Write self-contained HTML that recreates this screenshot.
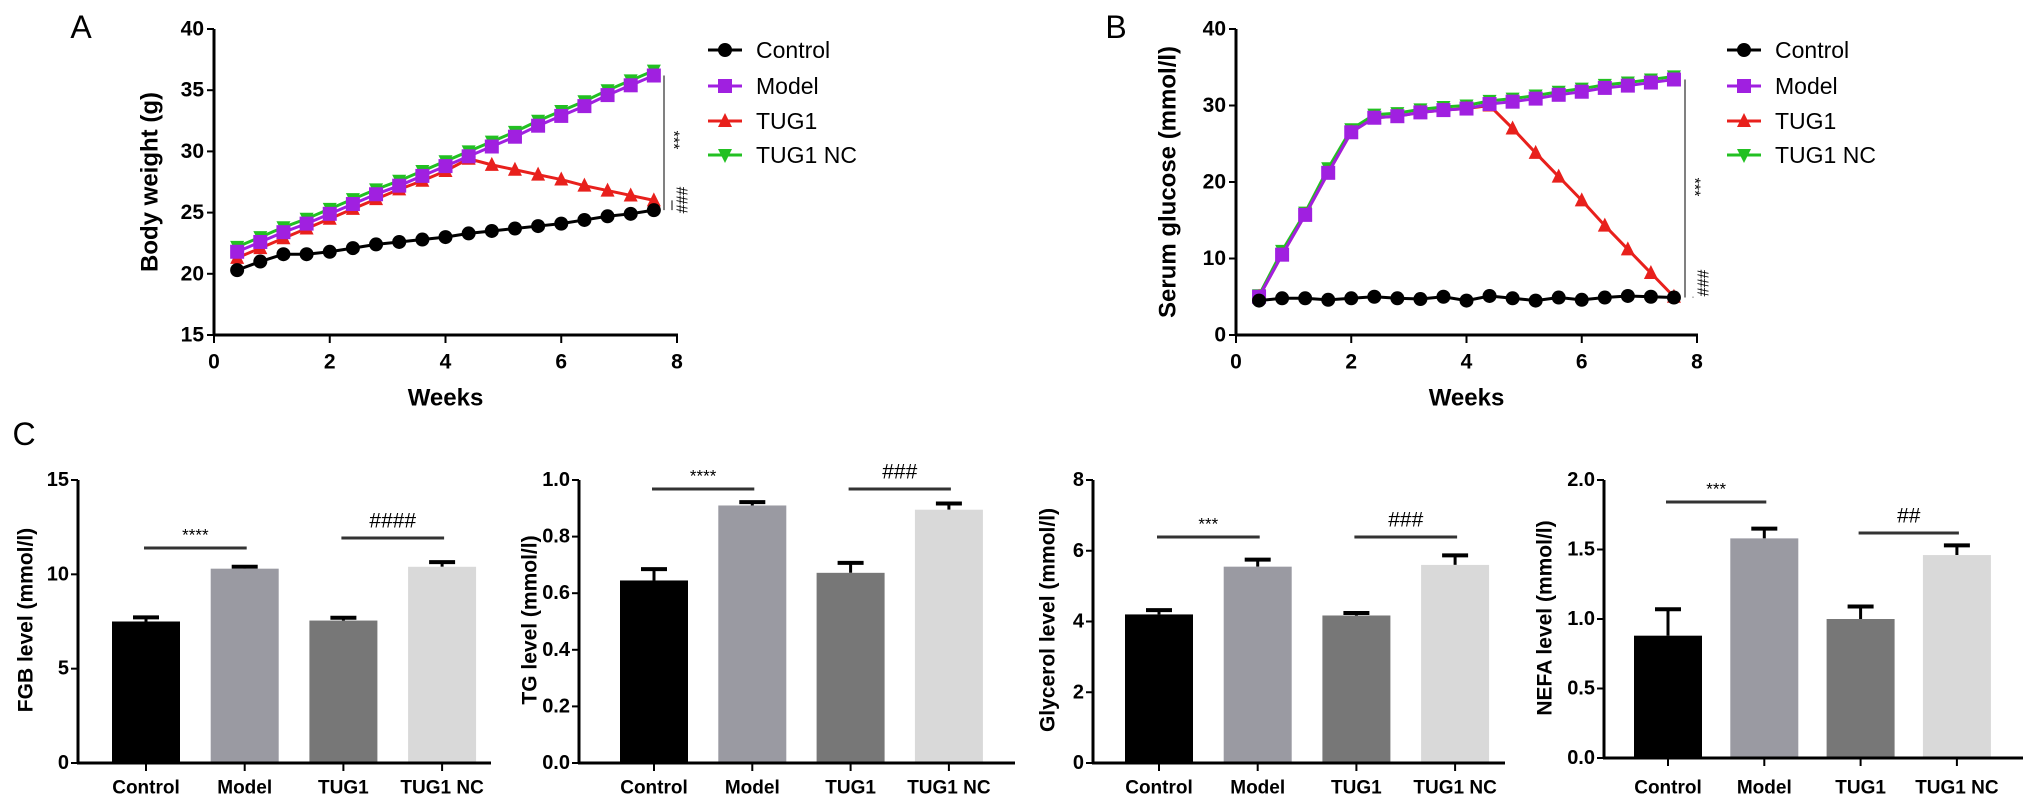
<!DOCTYPE html>
<html><head><meta charset="utf-8"><style>
html,body{margin:0;padding:0;background:#fff;}
svg{display:block;font-family:"Liberation Sans",Arial,sans-serif;}
</style></head><body>
<svg id="fig" width="2031" height="809" viewBox="0 0 2031 809" xmlns="http://www.w3.org/2000/svg"></svg>
<script>
const weeks=[0.4,0.8,1.2,1.6,2.0,2.4,2.8,3.2,3.6,4.0,4.4,4.8,5.2,5.6,6.0,6.4,6.8,7.2,7.6];
const groups=["Control","Model","TUG1","TUG1 NC"];
const bwControl=[20.3,21.0,21.6,21.6,21.8,22.1,22.4,22.6,22.8,23.0,23.3,23.5,23.7,23.9,24.1,24.4,24.7,24.9,25.2];
const bwModel=[21.8,22.6,23.4,24.1,24.9,25.7,26.5,27.2,28.0,28.8,29.6,30.4,31.2,32.1,32.9,33.7,34.6,35.4,36.2];
const bwTUG1=[21.3,22.1,22.9,23.7,24.5,25.3,26.1,26.9,27.6,28.4,29.4,28.9,28.5,28.1,27.7,27.2,26.8,26.4,26.0];
const bwNC=[22.2,23.0,23.8,24.5,25.3,26.1,26.9,27.6,28.4,29.2,30.0,30.8,31.6,32.5,33.3,34.1,35.0,35.8,36.6];
const sgControl=[4.5,4.8,4.8,4.6,4.8,5.0,4.8,4.7,5.0,4.5,5.1,4.8,4.5,4.9,4.6,4.9,5.1,5.0,4.9];
const sgModel=[5.0,10.5,15.7,21.2,26.5,28.4,28.6,29.1,29.4,29.6,30.2,30.5,30.9,31.4,31.8,32.3,32.6,33.0,33.4];
const sgTUG1=[5.0,10.5,15.7,21.2,26.5,28.4,28.6,29.1,29.4,29.6,30.0,27.0,23.8,20.7,17.6,14.3,11.2,8.1,5.0];
const sgNC=[5.2,11.0,16.0,21.8,26.9,28.8,29.0,29.5,29.8,30.0,30.6,30.9,31.3,31.8,32.2,32.7,33.0,33.4,33.8];
const xTicks=[0,2,4,6,8];
const bwTicks=[15,20,25,30,35,40];
const sgTicks=[0,10,20,30,40];
const fgbVals=[7.5,10.3,7.55,10.4], fgbErr=[0.22,0.1,0.15,0.25], fgbTicks=[0,5,10,15];
const tgVals=[0.645,0.91,0.672,0.895], tgErr=[0.04,0.012,0.035,0.022], tgTicks=[0,0.2,0.4,0.6,0.8,1.0];
const glyVals=[4.2,5.55,4.17,5.6], glyErr=[0.12,0.2,0.07,0.27], glyTicks=[0,2,4,6,8];
const nefaVals=[0.88,1.58,1.0,1.46], nefaErr=[0.19,0.07,0.09,0.07], nefaTicks=[0,0.5,1.0,1.5,2.0];

const NS="http://www.w3.org/2000/svg";
const svg=document.getElementById('fig');
function mk(tag,attrs,parent,text){const e=document.createElementNS(NS,tag);for(const k in attrs)e.setAttribute(k,attrs[k]);if(text!==undefined)e.textContent=text;(parent||svg).appendChild(e);return e;}
function lbl(x,y,t,size,weight,anchor,rot){const e=mk('text',{x:x,y:y,'font-size':size,'font-weight':weight||'normal','text-anchor':anchor||'middle','dominant-baseline':'central'},svg,t);if(rot)e.setAttribute('transform','rotate('+rot+' '+x+' '+y+')');return e;}

function marker(g,type,x,y,color){
  let e;
  if(type==='circle')e=mk('circle',{cx:x,cy:y,r:7,fill:color},g);
  else if(type==='square')e=mk('rect',{x:x-7,y:y-7,width:14,height:14,fill:color},g);
  else if(type==='up')e=mk('polygon',{points:(x)+','+(y-8)+' '+(x-7)+','+(y+6)+' '+(x+7)+','+(y+6),fill:color},g);
  else e=mk('polygon',{points:(x)+','+(y+8)+' '+(x-7)+','+(y-6)+' '+(x+7)+','+(y-6),fill:color},g);
  return e;
}

function lineChart(cfg){
  const g=mk('g',{});
  
  
  const sx=v=>cfg.x0+(v-0)/(8-0)*(cfg.x1-cfg.x0);
  const sy=v=>cfg.yb-(v-cfg.ymin)/(cfg.ymax-cfg.ymin)*(cfg.yb-cfg.yt);
  mk('line',{x1:cfg.x0,y1:cfg.yt,x2:cfg.x0,y2:cfg.yb+1,stroke:'#000','stroke-width':3},g);
  mk('line',{x1:cfg.x0-1,y1:cfg.yb,x2:cfg.x1+1,y2:cfg.yb,stroke:'#000','stroke-width':3},g);
  cfg.yticks.forEach(t=>{const y=sy(t);mk('line',{x1:cfg.x0-7,y1:y,x2:cfg.x0,y2:y,stroke:'#000','stroke-width':2},g);
    const tl=lbl(cfg.x0-10,y,String(t),21,'bold','end');});
  xTicks.forEach(t=>{const x=sx(t);mk('line',{x1:x,y1:cfg.yb,x2:x,y2:cfg.yb+8,stroke:'#000','stroke-width':2},g);
    const tl=lbl(x,cfg.yb+27,String(t),21,'bold');});
  const xt=lbl((cfg.x0+cfg.x1)/2,398,'Weeks',24,'bold');
  const yt=lbl(cfg.titleX,(cfg.yt+cfg.yb)/2,cfg.ytitle,24,'bold','middle',-90);
  const ser=[{d:cfg.nc,c:'#22c022',m:'down',n:'TUG1 NC'},{d:cfg.tug,c:'#e8201c',m:'up',n:'TUG1'},{d:cfg.model,c:'#a020e0',m:'square',n:'Model'},{d:cfg.control,c:'#000',m:'circle',n:'Control'}];
  ser.forEach(s=>{
    const sg=mk('g',{},g);
    
    
    mk('polyline',{points:s.d.map((v,i)=>sx(weeks[i])+','+sy(v)).join(' '),fill:'none',stroke:s.c,'stroke-width':3},sg);
    s.d.forEach((v,i)=>marker(sg,s.m,sx(weeks[i]),sy(v),s.c));
  });
  // legend
  const leg=[{n:'Control',c:'#000',m:'circle'},{n:'Model',c:'#a020e0',m:'square'},{n:'TUG1',c:'#e8201c',m:'up'},{n:'TUG1 NC',c:'#22c022',m:'down'}];
  const ly=[50,86,121,155];
  leg.forEach((l,i)=>{
    const lg=mk('g',{},g);
    
    
    mk('line',{x1:cfg.legX-17,y1:ly[i],x2:cfg.legX+17,y2:ly[i],stroke:l.c,'stroke-width':3},lg);
    marker(lg,l.m,cfg.legX,ly[i],l.c);
    const t=mk('text',{x:cfg.legX+31,y:ly[i],'font-size':23,'dominant-baseline':'central'},lg,l.n);
  });
  // significance
  const sigX=cfg.sigX;
  mk('line',{x1:sigX,y1:sy(cfg.model[18]),x2:sigX,y2:sy(cfg.control[18])-cfg.sigGap,stroke:'#000','stroke-width':1},g);
  mk('line',{x1:sigX+8,y1:sy(cfg.tug[18]),x2:sigX+8,y2:sy(cfg.control[18]),stroke:'#000','stroke-width':1},g);
  const s1=lbl(sigX+9,cfg.starY,'***',16,'normal','middle',90);
  const s2=lbl(sigX+17,cfg.hashY,'###',16,'normal','middle',90);
}

lineChart({name:'panel-a-body-weight',x0:214,x1:677,yt:29,yb:335,ymin:15,ymax:40,yticks:bwTicks,ytitle:'Body weight (g)',titleX:150,
  control:bwControl,model:bwModel,tug:bwTUG1,nc:bwNC,legX:725,sigX:664,sigGap:0,starY:140,hashY:200});
lineChart({name:'panel-b-serum-glucose',x0:1236,x1:1697,yt:29,yb:335,ymin:0,ymax:40,yticks:sgTicks,ytitle:'Serum glucose (mmol/l)',titleX:1168,
  control:sgControl,model:sgModel,tug:sgTUG1,nc:sgNC,legX:1744,sigX:1685,sigGap:0,starY:187,hashY:283});

function barChart(cfg){
  const g=mk('g',{});
  
  
  const ymax=cfg.ticks[cfg.ticks.length-1];
  const sy=v=>cfg.yb-v/ymax*(cfg.yb-cfg.yt);
  const sx=i=>cfg.cx0+i*cfg.step;
  const cols=['#000000','#9a9aa2','#777777','#d9d9d9'];
  const w=68;
  cfg.vals.forEach((v,i)=>{
    const x=sx(i);
    const y=sy(v),ye=sy(v+cfg.err[i]);
    mk('line',{x1:x,y1:y,x2:x,y2:ye,stroke:'#000','stroke-width':3},g);
    mk('line',{x1:x-13,y1:ye,x2:x+13,y2:ye,stroke:'#000','stroke-width':4},g);
    const b=mk('rect',{x:x-w/2,y:y,width:w,height:cfg.yb-y,fill:cols[i]},g);
    
    
    mk('line',{x1:x,y1:cfg.yb,x2:x,y2:cfg.yb+8,stroke:'#000','stroke-width':2},g);
    const cl=lbl(x,788,groups[i],19,'bold');
  });
  mk('line',{x1:cfg.x0,y1:cfg.yt,x2:cfg.x0,y2:cfg.yb+1,stroke:'#000','stroke-width':3},g);
  mk('line',{x1:cfg.x0-1,y1:cfg.yb,x2:cfg.x1,y2:cfg.yb,stroke:'#000','stroke-width':3},g);
  cfg.ticks.forEach(t=>{const y=sy(t);mk('line',{x1:cfg.x0-7,y1:y,x2:cfg.x0,y2:y,stroke:'#000','stroke-width':2},g);
    const tl=lbl(cfg.x0-9,y,cfg.fmt(t),20,'bold','end');});
  const yt=lbl(cfg.titleX,cfg.titleY,cfg.ytitle,21,'bold','middle',-90);
  [[0,1,cfg.sig1Y,cfg.sig1],[2,3,cfg.sig2Y,cfg.sig2]].forEach(s=>{
    const a=sx(s[0])-2,b=sx(s[1])+2;
    const l=mk('line',{x1:a,y1:s[2],x2:b,y2:s[2],stroke:'#333','stroke-width':3},g);
    
    const t=lbl((a+b)/2,s[2]-(s[3][0]==='*'?13:17),s[3],s[3][0]==='*'?17:21,'normal');
    
  });
}
const f0=t=>String(t), f1=t=>t.toFixed(1);
barChart({name:'panel-c-fgb',x0:78,x1:491,yt:480,yb:763,cx0:146,step:98.7,vals:fgbVals,err:fgbErr,ticks:fgbTicks,fmt:f0,ytitle:'FGB level (mmol/l)',titleX:26,titleY:620,sig1Y:548,sig1:'****',sig2Y:538,sig2:'####'});
barChart({name:'panel-c-tg',x0:579,x1:1015,yt:480,yb:763,cx0:654,step:98.3,vals:tgVals,err:tgErr,ticks:tgTicks,fmt:f1,ytitle:'TG level (mmol/l)',titleX:530,titleY:620,sig1Y:489,sig1:'****',sig2Y:489,sig2:'###'});
barChart({name:'panel-c-glycerol',x0:1093,x1:1505,yt:480,yb:763,cx0:1159,step:98.7,vals:glyVals,err:glyErr,ticks:glyTicks,fmt:f0,ytitle:'Glycerol level (mmol/l)',titleX:1048,titleY:620,sig1Y:537,sig1:'***',sig2Y:537,sig2:'###'});
barChart({name:'panel-c-nefa',x0:1604,x1:2023,yt:480,yb:758,cx0:1668,step:96.3,vals:nefaVals,err:nefaErr,ticks:nefaTicks,fmt:f1,ytitle:'NEFA level (mmol/l)',titleX:1545,titleY:618,sig1Y:502,sig1:'***',sig2Y:533,sig2:'##'});

const pa=lbl(81,27,'A',32,'normal');
const pb=lbl(1116,27,'B',32,'normal');
const pc=lbl(24,434,'C',32,'normal');
</script>
</body></html>
